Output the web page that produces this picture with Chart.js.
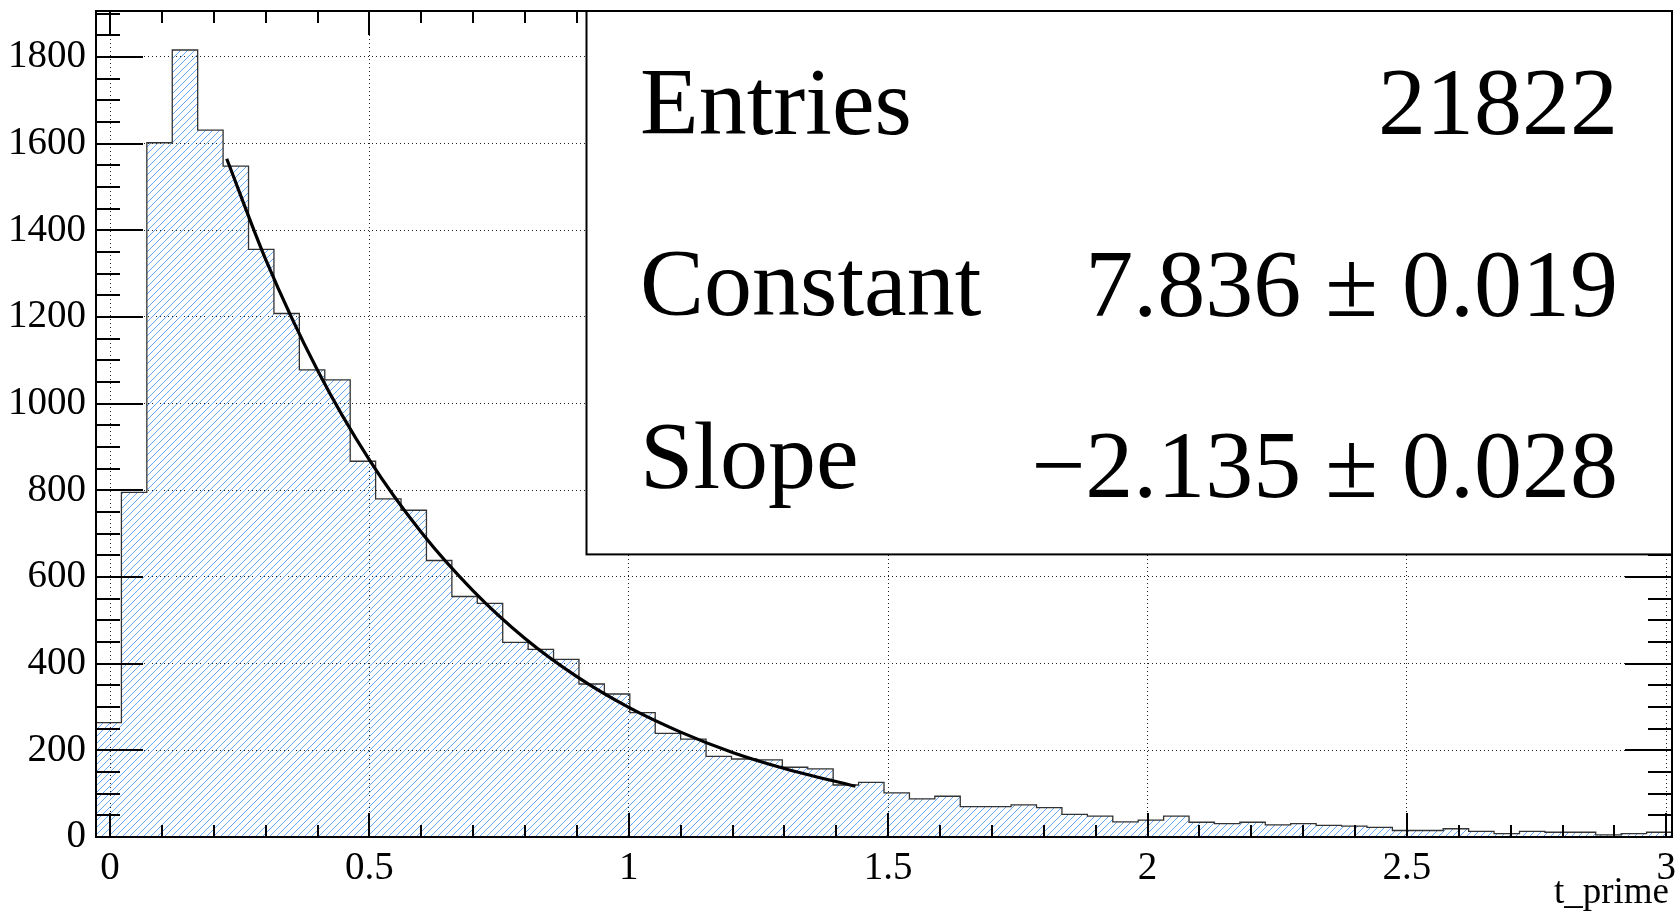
<!DOCTYPE html>
<html>
<head>
<meta charset="utf-8">
<script src="https://cdn.jsdelivr.net/npm/chart.js@4/dist/chart.umd.min.js"></script>
<style>
  html, body { margin: 0; padding: 0; background: #fff; }
  #wrap { width: 1678px; height: 915px; }
</style>
</head>
<body>
<div id="wrap"><canvas id="tprimeChart" width="1678" height="915"></canvas></div>
<script>
// histogram binning (62 bins)
const binLow = -0.027;
const binWidth = 0.049;
const counts = [
    264, 795, 1602, 1816, 1631, 1548, 1356, 1208, 1078, 1055,
    867, 780, 754, 638, 555, 539, 449, 433, 410, 353,
    330, 287, 239, 226, 186, 180, 178, 161, 157, 120,
    126, 102, 88, 94, 70, 70, 74, 68, 52, 48,
    35, 39, 48, 34, 31, 34, 28, 31, 27, 25,
    22, 15, 15, 19, 13, 8, 13, 11, 11, 5,
    8, 11
];

// fitted exponential
const fitX = [0.225, 0.3, 0.4, 0.5, 0.6, 0.7, 0.8, 0.9, 1.0, 1.1, 1.2, 1.3, 1.437];
const fitY = [1565, 1333, 1077, 870, 703, 568, 458, 370, 299, 242, 195, 158, 117];

const xTicks = [0, 0.5, 1, 1.5, 2, 2.5, 3];
const xTickLabels = ['0', '0.5', '1', '1.5', '2', '2.5', '3'];
const yTicks = [0, 200, 400, 600, 800, 1000, 1200, 1400, 1600, 1800];
const yTickLabels = ['0', '200', '400', '600', '800', '1000', '1200', '1400', '1600', '1800'];

const statLabels = ['Entries', 'Constant', 'Slope'];
const statValues = ['21822', '7.836 ± 0.019', '\u22122.135 ± 0.028'];
const xTitle = 't_prime';

const SERIF = '"Liberation Serif", "DejaVu Serif", serif';

function makeHatch() {
    const s = 7;
    const tile = document.createElement('canvas');
    tile.width = s; tile.height = s;
    const c = tile.getContext('2d');
    c.strokeStyle = '#64a8f5';
    c.lineWidth = 1;
    c.beginPath();
    c.moveTo(-1, s + 1); c.lineTo(s + 1, -1);
    c.moveTo(-1, 1); c.lineTo(1, -1);
    c.moveTo(s - 1, s + 1); c.lineTo(s + 1, s - 1);
    c.stroke();
    return c.createPattern(tile, 'repeat');
}

const histPoints = counts.map((c, i) => ({ x: binLow + i * binWidth, y: c }));
histPoints.push({ x: binLow + counts.length * binWidth, y: counts[counts.length - 1] });

const rootFrame = {
    id: 'rootFrame',
    afterDraw(chart) {
        const ctx = chart.ctx;
        const a = chart.chartArea;
        const xs = chart.scales.x, ys = chart.scales.y;
        ctx.save();
        ctx.strokeStyle = '#000';
        ctx.lineWidth = 2;
        ctx.beginPath();
        // x ticks, bottom and top
        for (let k = 0; k <= 30; k++) {
            const v = k / 10;
            const px = Math.round(xs.getPixelForValue(v));
            const len = (k % 5 === 0) ? 24 : 12;
            ctx.moveTo(px, a.bottom); ctx.lineTo(px, a.bottom - len);
            ctx.moveTo(px, a.top); ctx.lineTo(px, a.top + len);
        }
        // y ticks, left and right
        for (let v = 0; v <= 1900; v += 50) {
            const py = Math.round(ys.getPixelForValue(v));
            const len = (v % 200 === 0) ? 47 : 24;
            ctx.moveTo(a.left, py); ctx.lineTo(a.left + len, py);
            ctx.moveTo(a.right, py); ctx.lineTo(a.right - len, py);
        }
        ctx.stroke();

        // stats box
        const bx = 586.5, by = a.top, bw = a.right - bx, bh = 554.4 - a.top;
        ctx.fillStyle = '#fff';
        ctx.fillRect(bx, by, bw, bh);
        ctx.strokeRect(bx, by, bw, bh);
        ctx.fillStyle = '#000';
        ctx.font = '96px ' + SERIF;
        const labelBase = [134, 315, 488];
        const valueBase = [134, 316, 497];
        statLabels.forEach((t, i) => {
            ctx.textAlign = 'left';
            ctx.fillText(t, 640, labelBase[i]);
            ctx.textAlign = 'right';
            ctx.fillText(statValues[i], 1618, valueBase[i]);
        });

        // frame
        ctx.strokeRect(a.left, a.top, a.right - a.left, a.bottom - a.top);

        // axis title
        ctx.font = '37px ' + SERIF;
        ctx.textAlign = 'right';
        ctx.fillText(xTitle, 1669, 903);
        ctx.restore();
    }
};

const ctx = document.getElementById('tprimeChart').getContext('2d');
new Chart(ctx, {
    type: 'line',
    data: {
        datasets: [
            {
                label: 'fit',
                data: fitX.map((x, i) => ({ x: x, y: fitY[i] })),
                borderColor: '#000',
                borderWidth: 3.2,
                pointRadius: 0,
                fill: false,
                cubicInterpolationMode: 'monotone',
                order: 0
            },
            {
                label: 't_prime',
                data: histPoints,
                stepped: true,
                borderColor: '#333',
                borderWidth: 1.3,
                pointRadius: 0,
                fill: 'origin',
                backgroundColor: makeHatch(),
                order: 1
            }
        ]
    },
    options: {
        responsive: false,
        animation: false,
        devicePixelRatio: 1,
        layout: { padding: { left: 0, top: 11, right: 6, bottom: 0 } },
        plugins: { legend: { display: false }, tooltip: { enabled: false } },
        scales: {
            x: {
                type: 'linear',
                min: binLow,
                max: binLow + counts.length * binWidth,
                afterFit: s => { s.height = 78; s.paddingLeft = 0; s.paddingRight = 0; },
                afterBuildTicks: s => { s.ticks = xTicks.map(v => ({ value: v })); },
                grid: { color: '#222', lineWidth: 1, drawTicks: false },
                border: { display: false, dash: [1, 3] },
                ticks: {
                    color: '#000',
                    padding: 8,
                    maxRotation: 0,
                    font: { family: SERIF, size: 39 },
                    callback: v => xTickLabels[xTicks.indexOf(v)]
                }
            },
            y: {
                min: 0,
                max: 1906,
                afterFit: s => { s.width = 96; s.paddingTop = 0; s.paddingBottom = 0; },
                afterBuildTicks: s => { s.ticks = yTicks.map(v => ({ value: v })); },
                grid: { color: '#222', lineWidth: 1, drawTicks: false },
                border: { display: false, dash: [1, 3] },
                ticks: {
                    color: '#000',
                    padding: 10,
                    font: { family: SERIF, size: 39 },
                    callback: v => yTickLabels[yTicks.indexOf(v)]
                }
            }
        }
    },
    plugins: [rootFrame]
});
</script>
</body>
</html>
